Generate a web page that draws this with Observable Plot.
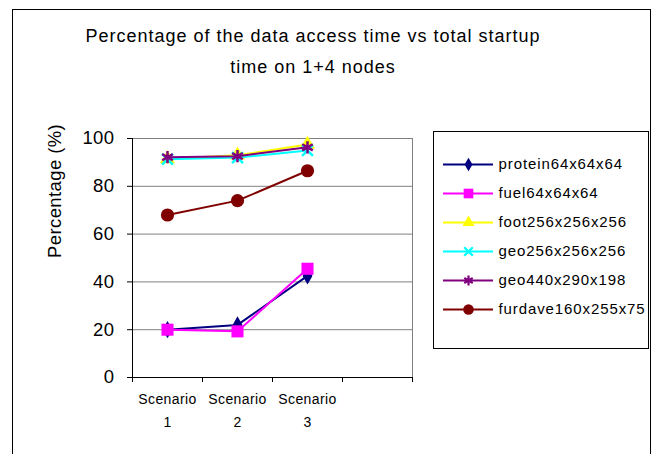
<!DOCTYPE html>
<html>
<head>
<meta charset="utf-8">
<script src="https://cdn.jsdelivr.net/npm/d3@7"></script>
<script src="https://cdn.jsdelivr.net/npm/@observablehq/plot@0.6"></script>
<style>
  html, body { margin: 0; padding: 0; background: #fff; overflow: hidden; width: 658px; height: 454px; }
  #wrap { position: relative; width: 658px; height: 454px; overflow: hidden; font-family: Arial, "Liberation Sans", sans-serif; }
  #outer { position: absolute; left: 12px; top: 9px; right: 7px; bottom: -20px; border: 1px solid #000; z-index: 5; pointer-events: none; }
  #title { position: absolute; left: 13px; width: 600px; top: 21px; text-align: center; font-size: 18px; line-height: 31px; letter-spacing: 1px; color: #000; }
  #main, #legend { position: absolute; }
  #main { left: 0; top: 0; }
  #legend { left: 432px; top: 130px; }
</style>
</head>
<body>
<div id="wrap">
  <div id="outer"></div>
  <div id="title">Percentage of the data access time vs total startup<br>time on 1+4 nodes</div>
  <div id="main"></div>
  <div id="legend"></div>
</div>
<script>
// ---- data ----
const scenarios = [1, 2, 3];
const scenarioLabel = "Scenario";
const seriesNames = ["protein64x64x64", "fuel64x64x64", "foot256x256x256", "geo256x256x256", "geo440x290x198", "furdave160x255x75"];
const protein = [20, 22, 42.5];
const fuel = [20, 19.3, 45.5];
const foot = [91.5, 93, 97.5];
const geo256 = [91.3, 92, 95];
const geo440 = [92.2, 92.6, 96.3];
const furdave = [68, 74, 86.5];
const yTicks = [0, 20, 40, 60, 80, 100];
const yLabel = "Percentage (%)";

// ---- styles ----
const colors = ["#000080", "#FF00FF", "#FFFF00", "#00FFFF", "#800080", "#800000"];
const symbols = ["diamond", "square", "triangle", "times", "asterisk", "circle"];
const symSize = [5.2, 6.8, 5.6, 5.0, 5.8, 6.6];
const strokeSym = [false, false, false, true, true, false];

const values = [protein, fuel, foot, geo256, geo440, furdave];
const data = seriesNames.flatMap((s, i) => scenarios.map((sc, j) => ({series: s, scenario: sc, value: values[i][j]})));

const font = "Arial, 'Liberation Sans', sans-serif";

const seriesMarks = seriesNames.flatMap((s, i) => {
  const d = data.filter(r => r.series === s);
  const dotOpts = strokeSym[i]
    ? {x: "scenario", y: "value", symbol: () => symbols[i], r: symSize[i], stroke: colors[i], fill: "none", strokeWidth: 2.5}
    : {x: "scenario", y: "value", symbol: () => symbols[i], r: symSize[i], fill: colors[i], stroke: "none"};
  return [
    Plot.line(d, {x: "scenario", y: "value", stroke: colors[i], strokeWidth: 2}),
    Plot.dot(d, dotOpts)
  ];
});

const main = Plot.plot({
  width: 658,
  height: 454,
  marginLeft: 132,
  marginRight: 246,
  marginTop: 138,
  marginBottom: 77,
  style: {fontFamily: font, background: "transparent", color: "#000"},
  x: {type: "linear", domain: [0.5, 4.5]},
  y: {domain: [0, 100]},
  symbol: {type: "identity"},
  marks: [
    Plot.ruleY([20, 40, 60, 80, 100], {stroke: "#808080", strokeWidth: 1}),
    Plot.ruleX([4.5], {stroke: "#808080", strokeWidth: 1}),
    Plot.ruleX([0.5], {stroke: "#000", strokeWidth: 1}),
    Plot.ruleY([0], {stroke: "#000", strokeWidth: 1}),
    Plot.axisY({ticks: yTicks, tickSize: 5, tickPadding: 13, fontSize: 18.5, label: null, stroke: "#000"}),
    Plot.axisX({ticks: [0.5, 1.5, 2.5, 3.5, 4.5], tickSize: 5, tickFormat: () => "", label: null, stroke: "#000"}),
    Plot.axisX({ticks: scenarios, tickSize: 0, tickPadding: 11, fontSize: 14, lineHeight: 1.6, tickFormat: d => `${scenarioLabel}\n${d}`, label: null}),
    Plot.text([yLabel], {frameAnchor: "left", dx: -77, rotate: -90, fontSize: 18.5}),
    ...seriesMarks
  ]
});
main.querySelectorAll("text").forEach(t => t.style.letterSpacing = "0.4px");
document.getElementById("main").appendChild(main);

// ---- legend ----
const legendMarks = seriesNames.flatMap((s, i) => {
  const dotOpts = strokeSym[i]
    ? {x: () => 0.5, y: d => d, symbol: () => symbols[i], r: symSize[i] * 0.8, stroke: colors[i], fill: "none", strokeWidth: 2.2}
    : {x: () => 0.5, y: d => d, symbol: () => symbols[i], r: symSize[i] * 0.8, fill: colors[i], stroke: "none"};
  return [
    Plot.ruleY([s], {y: d => d, x1: 0, x2: 1, stroke: colors[i], strokeWidth: 2}),
    Plot.dot([s], dotOpts),
    Plot.text([s], {y: d => d, x: () => 1.1, text: d => d, textAnchor: "start", fontSize: 15})
  ];
});
const legend = Plot.plot({
  width: 217,
  height: 219,
  margin: 1,
  style: {fontFamily: font, background: "transparent", color: "#000", overflow: "visible"},
  x: {type: "linear", domain: [0, 1], range: [11, 61], axis: null},
  y: {type: "point", domain: seriesNames, range: [19, 194], axis: null},
  symbol: {type: "identity"},
  marks: [
    Plot.frame({stroke: "#000", strokeWidth: 1}),
    ...legendMarks
  ]
});
legend.querySelectorAll("text").forEach(t => t.style.letterSpacing = "0.9px");
document.getElementById("legend").appendChild(legend);
</script>
</body>
</html>
